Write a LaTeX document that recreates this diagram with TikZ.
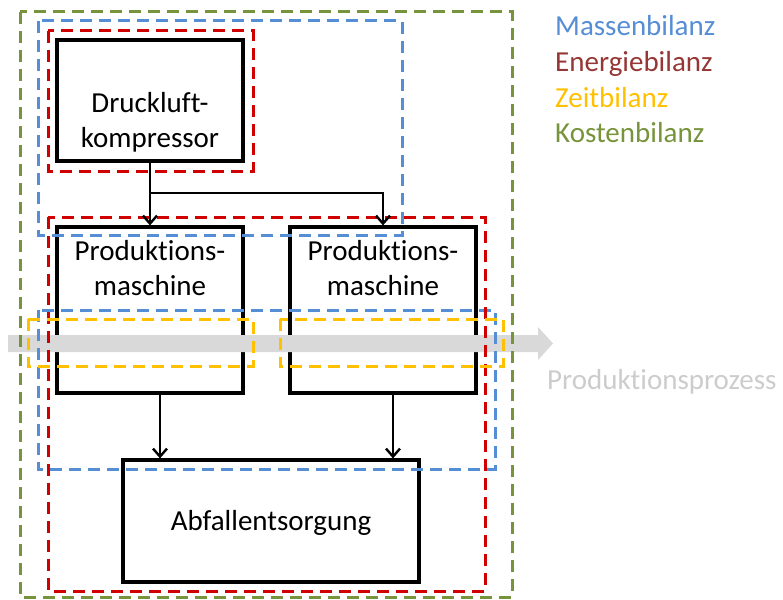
\documentclass[tikz,border=0pt]{standalone}
\usepackage{fontspec}
\setmainfont{Carlito}[Ligatures=NoCommon]
\usetikzlibrary{arrows.meta}
\definecolor{massblue}{HTML}{558ED5}
\definecolor{energyred}{HTML}{D00000}
\definecolor{energytext}{HTML}{953735}
\definecolor{timeyellow}{HTML}{FFC000}
\definecolor{costgreen}{HTML}{77933C}
\definecolor{flowgray}{HTML}{D9D9D9}
\definecolor{flowtext}{HTML}{CCCCCC}
\begin{document}
\begin{tikzpicture}[x=1pt,y=-1pt,
  box/.style={draw=black,line width=3.2pt,inner sep=0pt},
  lbl/.style={font=\fontsize{29}{35}\selectfont,align=center,inner sep=0pt},
  legend/.style={font=\fontsize{29}{35}\selectfont,inner sep=0pt,anchor=base west},
  frame/.style={line width=3pt,dash pattern=on 12pt off 7pt},
  arr/.style={line width=2.4pt,-{Straight Barb[length=8pt,width=14pt,line width=2.4pt]}},
]
\useasboundingbox (0,0) rectangle (783,599);

% process blocks
\node[box,minimum width=186pt,minimum height=121pt] (komp) at (150,100.5) {};
\node[lbl] (kompText) at (150,122) {Druckluft-\\kompressor};
\node[box,minimum width=186pt,minimum height=166pt] (m1) at (150,310) {};
\node[lbl] (m1Text) at (150,268.5) {Produktions-\\maschine};
\node[box,minimum width=186pt,minimum height=166pt] (m2) at (383,310) {};
\node[lbl] (m2Text) at (383,268.5) {Produktions-\\maschine};
\node[box,minimum width=296pt,minimum height=122pt] (abf) at (271,521) {};
\node[lbl] (abfText) at (271,523) {Abfallentsorgung};

% production flow arrow
\fill[flowgray] (8,335) -- (538,335) -- (538,327) -- (553,343.5)
  -- (538,360) -- (538,352) -- (8,352) -- cycle;
\node[font=\fontsize{29}{35}\selectfont,text=flowtext,inner sep=0pt,anchor=base west]
  (flowLabel) at (547,389) {Produktionsprozess};

% balance boundaries
\draw[frame,costgreen] (20,12) rectangle (512,597);
\draw[frame,massblue] (38,21) rectangle (402,235);
\draw[frame,massblue] (38,310) rectangle (495,469);
\draw[frame,energyred] (48,31) rectangle (253,171);
\draw[frame,energyred] (48,217) rectangle (485,591);
\draw[frame,timeyellow] (28,319) rectangle (253,366);
\draw[frame,timeyellow] (280,319) rectangle (503,366);

% connectors
\coordinate (split) at (150,193);
\draw[arr] (komp.south) -- (m1.north);
\draw[arr] (komp.south) -- (split) -| (m2.north);
\draw[arr] ([xshift=10pt]m1.south) -- ([xshift=10pt]m1.south |- abf.north);
\draw[arr] ([xshift=10pt]m2.south) -- ([xshift=10pt]m2.south |- abf.north);

% legend
\node[legend,text=massblue] (lgMass) at (555,36) {Massenbilanz};
\node[legend,text=energytext] (lgEnergy) at (555,72) {Energiebilanz};
\node[legend,text=timeyellow] (lgTime) at (555,107) {Zeitbilanz};
\node[legend,text=costgreen] (lgCost) at (555,142) {Kostenbilanz};
\end{tikzpicture}
\end{document}
